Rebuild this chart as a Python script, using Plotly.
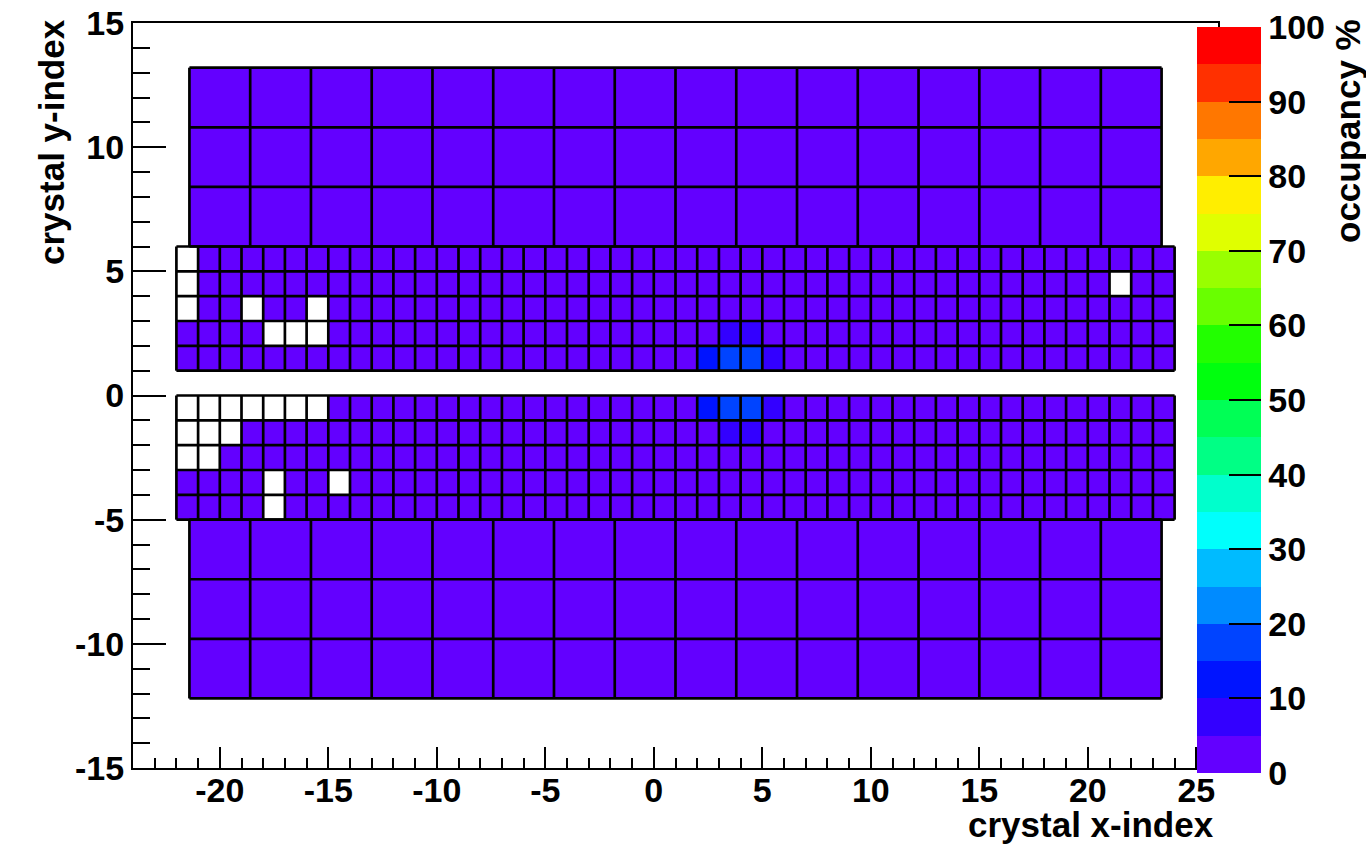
import plotly.graph_objects as go

FONT = "Liberation Sans"

# ROOT "pretty" palette sampled into 20 contour bands (0 -> 100 %)
PALETTE = [
    "#6300ff", "#3300ff", "#0014ff", "#0044ff", "#008bff",
    "#00bbff", "#00fffc", "#00ffcc", "#00ff85", "#00ff55",
    "#00ff0e", "#22ff00", "#69ff00", "#99ff00", "#e0ff00",
    "#ffee00", "#ffa700", "#ff7700", "#ff3000", "#ff0000",
]

# Axis tick values and their labels (plain hyphen for negatives)
X_TICKS = [-20, -15, -10, -5, 0, 5, 10, 15, 20, 25]
X_TICK_TEXT = ["-20", "-15", "-10", "-5", "0", "5", "10", "15", "20", "25"]
Y_TICKS = [-15, -10, -5, 0, 5, 10, 15]
Y_TICK_TEXT = ["-15", "-10", "-5", "0", "5", "10", "15"]
Z_TICKS = [0, 10, 20, 30, 40, 50, 60, 70, 80, 90, 100]

# Crystal bin edges (index units)
SMALL_X_EDGES = list(range(-22, 25))
SMALL_Y_EDGES_TOP = [1, 2, 3, 4, 5, 6]
SMALL_Y_EDGES_BOTTOM = [-5, -4, -3, -2, -1, 0]
LARGE_X_EDGES = [-21.4, -18.6, -15.8, -13.0, -10.2, -7.4, -4.6, -1.8, 1.0,
                 3.8, 6.6, 9.4, 12.2, 15.0, 17.8, 20.6, 23.4]
LARGE_Y_EDGES_TOP = [6.0, 8.4, 10.8, 13.2]
LARGE_Y_EDGES_BOTTOM = [-12.2, -9.8, -7.4, -5.0]

# Occupancy (%) of the small crystals, upper block, rows y = 1 .. 5
SMALL_TOP = [
    [2, 2, 2, 2, 2, 2, 2, 2, 2, 2,  2, 2, 2, 2, 2, 2, 2, 2, 2, 2,
     2, 2, 2, 2, 12, 17, 17, 7, 2, 2,  2, 2, 2, 2, 2, 2, 2, 2, 2, 2,
     2, 2, 2, 2, 2, 2],
    [2, 2, 2, 2, 0, 0, 0, 2, 2, 2,  2, 2, 2, 2, 2, 2, 2, 2, 2, 2,
     2, 2, 2, 2, 2, 7, 7, 2, 2, 2,  2, 2, 2, 2, 2, 2, 2, 2, 2, 2,
     2, 2, 2, 2, 2, 2],
    [0, 2, 2, 0, 2, 2, 0, 2, 2, 2,  2, 2, 2, 2, 2, 2, 2, 2, 2, 2,
     2, 2, 2, 2, 2, 2, 2, 2, 2, 2,  2, 2, 2, 2, 2, 2, 2, 2, 2, 2,
     2, 2, 2, 2, 2, 2],
    [0, 2, 2, 2, 2, 2, 2, 2, 2, 2,  2, 2, 2, 2, 2, 2, 2, 2, 2, 2,
     2, 2, 2, 2, 2, 2, 2, 2, 2, 2,  2, 2, 2, 2, 2, 2, 2, 2, 2, 2,
     2, 2, 2, 0, 2, 2],
    [0, 2, 2, 2, 2, 2, 2, 2, 2, 2,  2, 2, 2, 2, 2, 2, 2, 2, 2, 2,
     2, 2, 2, 2, 2, 2, 2, 2, 2, 2,  2, 2, 2, 2, 2, 2, 2, 2, 2, 2,
     2, 2, 2, 2, 2, 2],
]

# Occupancy (%) of the small crystals, lower block, rows y = -5 .. -1
SMALL_BOTTOM = [
    [2, 2, 2, 2, 0, 2, 2, 2, 2, 2,  2, 2, 2, 2, 2, 2, 2, 2, 2, 2,
     2, 2, 2, 2, 2, 2, 2, 2, 2, 2,  2, 2, 2, 2, 2, 2, 2, 2, 2, 2,
     2, 2, 2, 2, 2, 2],
    [2, 2, 2, 2, 0, 2, 2, 0, 2, 2,  2, 2, 2, 2, 2, 2, 2, 2, 2, 2,
     2, 2, 2, 2, 2, 2, 2, 2, 2, 2,  2, 2, 2, 2, 2, 2, 2, 2, 2, 2,
     2, 2, 2, 2, 2, 2],
    [0, 0, 2, 2, 2, 2, 2, 2, 2, 2,  2, 2, 2, 2, 2, 2, 2, 2, 2, 2,
     2, 2, 2, 2, 2, 2, 2, 2, 2, 2,  2, 2, 2, 2, 2, 2, 2, 2, 2, 2,
     2, 2, 2, 2, 2, 2],
    [0, 0, 0, 2, 2, 2, 2, 2, 2, 2,  2, 2, 2, 2, 2, 2, 2, 2, 2, 2,
     2, 2, 2, 2, 2, 7, 7, 2, 2, 2,  2, 2, 2, 2, 2, 2, 2, 2, 2, 2,
     2, 2, 2, 2, 2, 2],
    [0, 0, 0, 0, 0, 0, 0, 2, 2, 2,  2, 2, 2, 2, 2, 2, 2, 2, 2, 2,
     2, 2, 2, 2, 12, 17, 17, 7, 2, 2,  2, 2, 2, 2, 2, 2, 2, 2, 2, 2,
     2, 2, 2, 2, 2, 2],
]

# Occupancy (%) of the large crystals, 3 rows x 16 columns per block
LARGE_TOP = [
    [2, 2, 2, 2, 2, 2, 2, 2, 2, 2, 2, 2, 2, 2, 2, 2],
    [2, 2, 2, 2, 2, 2, 2, 2, 2, 2, 2, 2, 2, 2, 2, 2],
    [2, 2, 2, 2, 2, 2, 2, 2, 2, 2, 2, 2, 2, 2, 2, 2],
]
LARGE_BOTTOM = [
    [2, 2, 2, 2, 2, 2, 2, 2, 2, 2, 2, 2, 2, 2, 2, 2],
    [2, 2, 2, 2, 2, 2, 2, 2, 2, 2, 2, 2, 2, 2, 2, 2],
    [2, 2, 2, 2, 2, 2, 2, 2, 2, 2, 2, 2, 2, 2, 2, 2],
]

BLOCKS = [
    (SMALL_X_EDGES, SMALL_Y_EDGES_TOP, SMALL_TOP),
    (SMALL_X_EDGES, SMALL_Y_EDGES_BOTTOM, SMALL_BOTTOM),
    (LARGE_X_EDGES, LARGE_Y_EDGES_TOP, LARGE_TOP),
    (LARGE_X_EDGES, LARGE_Y_EDGES_BOTTOM, LARGE_BOTTOM),
]

# Plot-area geometry in pixels, used to place text and the colour bar
W, H = 1366, 844
L, R, T, B = 133, 1218, 23, 768


def xp(px):
    return (px - L) / (R - L)


def yp(py):
    return (B - py) / (B - T)


def masked(z):
    # empty crystals (0 %) are left undrawn, as in a COL plot
    return [[v if v > 0 else None for v in row] for row in z]


def grid(xe, ye):
    xs, ys = [], []
    for y in ye:
        xs += [xe[0], xe[-1], None]
        ys += [y, y, None]
    for x in xe:
        xs += [x, x, None]
        ys += [ye[0], ye[-1], None]
    return xs, ys


colorscale = []
for k, c in enumerate(PALETTE):
    colorscale.append([k / len(PALETTE), c])
    colorscale.append([(k + 1) / len(PALETTE), c])

fig = go.Figure()

for xe, ye, z in BLOCKS:
    fig.add_trace(go.Heatmap(
        x=xe, y=ye, z=masked(z), coloraxis="coloraxis",
        hoverongaps=False, zsmooth=False,
    ))

for xe, ye, z in BLOCKS:
    gx, gy = grid(xe, ye)
    fig.add_trace(go.Scatter(
        x=gx, y=gy, mode="lines",
        line=dict(color="black", width=2.7),
        hoverinfo="skip", showlegend=False,
    ))

tickfont = dict(family=FONT, size=34, color="black", weight="bold")
titlefont = dict(family=FONT, size=35, color="black", weight="bold")

axis_common = dict(
    showgrid=False, zeroline=False,
    showline=True, linecolor="black", linewidth=2, mirror=True,
    ticks="inside", tickcolor="black", tickwidth=2,
    tickfont=tickfont, tickmode="array",
)

fig.update_layout(
    width=W, height=H,
    margin=dict(l=L, r=W - R, t=T, b=H - B, pad=0, autoexpand=False),
    paper_bgcolor="white", plot_bgcolor="white",
    showlegend=False,
    xaxis=dict(
        range=[-24, 26], ticklen=21,
        tickvals=X_TICKS, ticktext=X_TICK_TEXT,
        ticklabelstandoff=-9,
        minor=dict(dtick=1, tick0=0, ticks="inside", ticklen=10,
                   tickwidth=2, tickcolor="black", showgrid=False),
        **axis_common,
    ),
    yaxis=dict(
        range=[-15, 15], ticklen=33,
        tickvals=Y_TICKS, ticktext=Y_TICK_TEXT,
        minor=dict(dtick=1, tick0=0, ticks="inside", ticklen=17,
                   tickwidth=2, tickcolor="black", showgrid=False),
        **axis_common,
    ),
    coloraxis=dict(
        colorscale=colorscale, cmin=0, cmax=100,
        colorbar=dict(
            x=xp(1197), xanchor="left", xpad=0,
            y=yp(400), yanchor="middle", ypad=0,
            thickness=64, thicknessmode="pixels",
            len=746, lenmode="pixels",
            outlinewidth=0, bgcolor="white",
            ticks="inside", ticklen=32, tickwidth=2, tickcolor="black",
            tickmode="array", tickvals=Z_TICKS,
            tickfont=tickfont,
        ),
    ),
    annotations=[
        dict(text="crystal x-index", xref="paper", yref="paper",
             x=xp(1216), y=yp(824), xanchor="right", yanchor="middle",
             showarrow=False, font=titlefont),
        dict(text="crystal y-index", xref="paper", yref="paper",
             x=xp(52), y=yp(17), xanchor="center", yanchor="top",
             textangle=-90, showarrow=False, font=titlefont),
        dict(text="occupancy %", xref="paper", yref="paper",
             x=xp(1348), y=yp(17), xanchor="center", yanchor="top",
             textangle=-90, showarrow=False, font=titlefont),
    ],
)

# right-hand axis line of the palette
fig.add_shape(type="line", xref="paper", yref="paper",
              x0=xp(1261), x1=xp(1261), y0=yp(773), y1=yp(27),
              line=dict(color="black", width=2), layer="above")

fig.write_html("out.html")
